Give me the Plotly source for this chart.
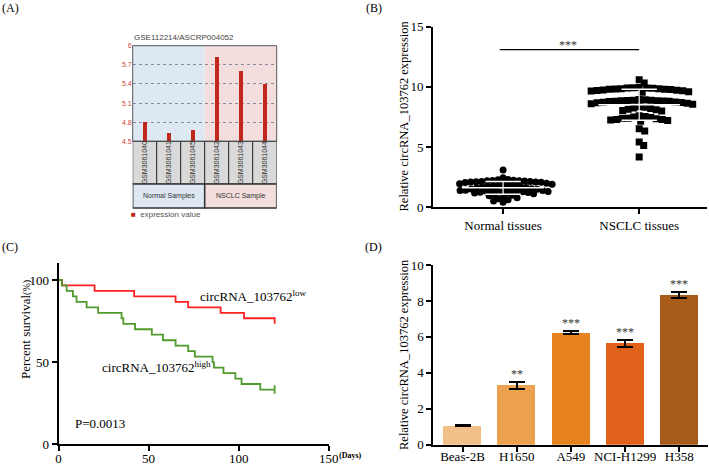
import numpy as np
import plotly.graph_objects as go

W, H = 709, 465

# ---------------- data ----------------
# (A) microarray expression
samples_A = ["GSM3061040", "GSM3061041", "GSM3061045", "GSM3061042", "GSM3061043", "GSM3061044"]
expr_A = [4.80, 4.64, 4.68, 5.82, 5.60, 5.41]
groups_A = ["Normal Samples", "NSCLC Sample"]
yticks_A = [4.5, 4.8, 5.1, 5.4, 5.7, 6.0]
yticktext_A = ["4.5", "4.8", "5.1", "5.4", "5.7", "6"]

# (B) tissues
tissue_groups = ["Normal tissues", "NSCLC tissues"]
normal_tissue = [3.10, 2.45,
                 2.30, 2.28, 2.25, 2.22, 2.20, 2.20, 2.18, 2.15, 2.15, 2.12, 2.10, 2.10, 2.08, 2.05, 2.02, 2.00,
                 1.95, 1.92, 1.88, 1.85, 1.80, 1.78, 1.75, 1.70, 1.68, 1.65, 1.62, 1.60,
                 1.55, 1.52, 1.50, 1.48, 1.45, 1.42, 1.40, 1.40, 1.38, 1.35, 1.35, 1.32, 1.30, 1.28, 1.25, 1.22, 1.20, 1.18,
                 1.12, 1.05, 1.00, 0.95, 0.88, 0.80, 0.72, 0.62, 0.52, 0.42]
nsclc_tissue = [10.60, 10.33,
                9.95, 9.93, 9.90, 9.90, 9.88, 9.85, 9.85, 9.82, 9.80, 9.80, 9.78, 9.75, 9.72, 9.70, 9.68, 9.65, 9.60, 9.55,
                8.95, 8.93, 8.90, 8.90, 8.88, 8.85, 8.85, 8.82, 8.80, 8.80, 8.78, 8.75, 8.72, 8.70, 8.68, 8.65, 8.60, 8.55,
                8.35, 8.30, 8.25, 8.20, 8.15, 8.10, 8.05, 8.00,
                7.60, 7.55, 7.50, 7.45, 7.40, 7.40, 7.35, 7.30, 7.30, 7.25, 7.20, 7.15,
                6.53, 6.33, 5.42, 5.14, 4.17]

# (C) Kaplan-Meier
km_low_days = [0, 2, 20, 42, 65, 72, 90, 103, 120]
km_low_surv = [100, 96.7, 93.3, 90, 86.7, 83.3, 80, 76.7, 73.3]
km_high_days = [0, 1.8, 4.5, 8, 10, 15.6, 22, 35, 36, 42.5, 51.8, 58, 65, 72, 75.7, 85.5, 86.3, 91.6, 98.2, 101.6, 112, 120]
km_high_surv = [100, 96.7, 93.3, 90, 86.7, 83.3, 80, 76.7, 73.3, 70, 66.7, 63.3, 60, 56.7, 53.3, 50, 46.7, 43.3, 40, 36.7, 33.3, 33.3]

# (D) cell lines
cell_lines = ["Beas-2B", "H1650", "A549", "NCI-H1299", "H358"]
cell_expr = [1.05, 3.30, 6.24, 5.64, 8.32]
cell_err = [0.03, 0.18, 0.08, 0.18, 0.15]
cell_sig = ["", "**", "***", "***", "***"]
cell_colors = ["#f1bf87", "#eca14f", "#e7831f", "#e1611b", "#a75c19"]

# ---------------- helpers ----------------
def dx(a, b):
    return [a / W, b / W]

def dy(top, bottom):
    return [1 - bottom / H, 1 - top / H]

def px(x):
    return x / W

def py(y):
    return 1 - y / H

SERIF = "Liberation Serif, Times New Roman, serif"
SANS = "Liberation Sans, Arial, sans-serif"

def swarm(values, ppu_y, ppu_x, d):
    """deterministic beeswarm offsets (data units on x)"""
    order = np.argsort(values)[::-1]
    placed = []
    offs = np.zeros(len(values))
    for i in order:
        y = values[i] * ppu_y
        cands = [0.0]
        for k in range(1, 400):
            cands += [k * 0.5, -k * 0.5]
        for c in cands:
            ok = True
            for (qx, qy) in placed:
                if (c - qx) ** 2 + (y - qy) ** 2 < d * d:
                    ok = False
                    break
            if ok:
                placed.append((c, y))
                offs[i] = c / ppu_x
                break
    return offs

def note(x, y, text, size=13, family=SERIF, color="black", xanchor="center", yanchor="middle", angle=0):
    return dict(x=px(x), y=py(y), xref="paper", yref="paper", text=text, showarrow=False,
                xanchor=xanchor, yanchor=yanchor, textangle=angle,
                font=dict(family=family, size=size, color=color))

fig = go.Figure()

# ---------------- (A) ----------------
xa = list(range(len(samples_A)))
fig.add_trace(go.Bar(x=xa, y=[v - 4.5 for v in expr_A], base=4.5, width=0.13,
                     marker=dict(color="#c0281c", line=dict(width=0)),
                     xaxis="x", yaxis="y", showlegend=False))

shapes = []
shapes.append(dict(type="rect", xref="x", yref="y domain", x0=-0.5, x1=2.5, y0=0, y1=1,
                   fillcolor="#dde8f3", line=dict(width=0), layer="below"))
shapes.append(dict(type="rect", xref="x", yref="y domain", x0=2.5, x1=5.5, y0=0, y1=1,
                   fillcolor="#f3dddd", line=dict(width=0), layer="below"))
shapes.append(dict(type="rect", xref="x domain", yref="y domain", x0=0, x1=1, y0=0, y1=1,
                   line=dict(color="#555555", width=1), layer="above"))
for i in xa:
    shapes.append(dict(type="rect", xref="x", yref="y domain", x0=i - 0.5, x1=i + 0.5, y0=-0.447, y1=0,
                       fillcolor="#d9d9d9", line=dict(color="#333333", width=1)))
for a, b, col in [(-0.5, 2.5, "#dde8f3"), (2.5, 5.5, "#f3dddd")]:
    shapes.append(dict(type="rect", xref="x", yref="y domain", x0=a, x1=b, y0=-0.698, y1=-0.447,
                       fillcolor=col, line=dict(color="#333333", width=1.5)))

annotations = []
for i, s in enumerate(samples_A):
    annotations.append(dict(x=i, y=-0.223, xref="x", yref="y domain", text=s, showarrow=False,
                            xanchor="center", yanchor="middle", textangle=-90,
                            font=dict(family=SANS, size=7, color="#333333")))
for g, xc in zip(groups_A, [1, 4]):
    annotations.append(dict(x=xc, y=-0.575, xref="x", yref="y domain", text=g, showarrow=False,
                            xanchor="center", yanchor="middle",
                            font=dict(family=SANS, size=7, color="#333333")))
annotations.append(note(132, 37, "GSE112214/ASCRP004052", size=8, family=SANS, color="#444444", xanchor="left"))
annotations.append(note(129, 214, "<span style='color:#c0281c'>■</span>  expression value", size=8,
                        family=SANS, color="#555555", xanchor="left"))

# ---------------- (B) ----------------
ppu_y_B = (207.3 - 26.7) / 15.0
ppu_x_B = (706.7 - 433.0) / (1.496 + 0.515)
off_n = swarm(np.array(normal_tissue), ppu_y_B, ppu_x_B, 5.2)
off_t = swarm(np.array(nsclc_tissue), ppu_y_B, ppu_x_B, 5.6)
fig.add_trace(go.Scatter(x=0 + off_n, y=normal_tissue, mode="markers",
                         marker=dict(symbol="circle", size=7, color="black"),
                         xaxis="x2", yaxis="y2", showlegend=False))
fig.add_trace(go.Scatter(x=1 + off_t, y=nsclc_tissue, mode="markers",
                         marker=dict(symbol="square", size=7, color="black"),
                         xaxis="x2", yaxis="y2", showlegend=False))
for xc, vals in [(0, normal_tissue), (1, nsclc_tissue)]:
    m = float(np.mean(vals)); sd = float(np.std(vals, ddof=1))
    shapes.append(dict(type="line", xref="x2", yref="y2", x0=xc - 0.3, x1=xc + 0.3, y0=m, y1=m,
                       line=dict(color="white", width=1.5)))
    for yy in (m - sd, m + sd):
        shapes.append(dict(type="line", xref="x2", yref="y2", x0=xc - 0.13, x1=xc + 0.13, y0=yy, y1=yy,
                           line=dict(color="white", width=1.5)))
    shapes.append(dict(type="line", xref="x2", yref="y2", x0=xc, x1=xc, y0=m - sd, y1=m + sd,
                       line=dict(color="white", width=1.2)))
shapes.append(dict(type="line", xref="x2", yref="y2", x0=-0.025, x1=1, y0=13.1, y1=13.1,
                   line=dict(color="black", width=1.3)))
annotations.append(dict(x=0.48, y=13.1, xref="x2", yref="y2", xanchor="center", yanchor="bottom", text="***",
                        showarrow=False, yshift=-4, font=dict(family=SERIF, size=12, color="#333333")))
annotations.append(note(404, 116.5, "Relative circRNA_103762 expression", size=12.5, angle=-90))

# ---------------- (C) ----------------
fig.add_trace(go.Scatter(x=km_low_days, y=km_low_surv, mode="lines", line=dict(color="#ff2020", width=1.8, shape="hv"),
                         xaxis="x3", yaxis="y3", showlegend=False))
fig.add_trace(go.Scatter(x=km_high_days, y=km_high_surv, mode="lines", line=dict(color="#4f9a2a", width=1.8, shape="hv"),
                         xaxis="x3", yaxis="y3", showlegend=False))
fig.add_trace(go.Scatter(x=[km_high_days[-1]], y=[km_high_surv[-1]], mode="markers",
                         marker=dict(symbol="line-ns", size=6, line=dict(color="#4f9a2a", width=1.8)),
                         xaxis="x3", yaxis="y3", showlegend=False))
annotations.append(note(198, 296, "circRNA_103762<sup>low</sup>", xanchor="left"))
annotations.append(note(100, 367, "circRNA_103762<sup>high</sup>", xanchor="left"))
annotations.append(note(73, 423, "P=0.0013", xanchor="left"))
annotations.append(note(25, 330, "Percent survival<span style='font-size:10px'>(%)</span>", angle=-90))
annotations.append(note(337, 455, "<b>(Days)</b>", size=8, xanchor="left"))

# ---------------- (D) ----------------
xd = list(range(len(cell_lines)))
fig.add_trace(go.Bar(x=xd, y=cell_expr, width=0.7, marker=dict(color=cell_colors, line=dict(width=0)),
                     error_y=dict(type="data", array=cell_err, color="black", thickness=2, width=8),
                     xaxis="x4", yaxis="y4", showlegend=False))
for i, (v, e, s) in enumerate(zip(cell_expr, cell_err, cell_sig)):
    if s:
        annotations.append(dict(x=i, y=v + e, xref="x4", yref="y4", xanchor="center", yanchor="bottom", text=s,
                                showarrow=False, yshift=-1, font=dict(family=SERIF, size=12, color="#333333")))
annotations.append(note(404, 355, "Relative circRNA_103762 expression", size=12.5, angle=-90))

for lab, lx, ly in [("(A)", 10, 8), ("(B)", 374, 8), ("(C)", 10, 247), ("(D)", 374, 247)]:
    annotations.append(note(lx, ly, lab, size=12))

axis_common = dict(showline=True, linecolor="black", linewidth=1.8, ticks="outside", ticklen=5, tickwidth=1.5,
                   tickcolor="black", showgrid=False, zeroline=False,
                   tickfont=dict(family=SERIF, size=13, color="black"))

fig.update_layout(
    width=W, height=H, margin=dict(l=0, r=0, t=0, b=0, autoexpand=False),
    paper_bgcolor="white", plot_bgcolor="rgba(0,0,0,0)",
    shapes=shapes, annotations=annotations, bargap=0,
    xaxis=dict(domain=dx(132.7, 276.7), range=[-0.5, 5.5], showticklabels=False, showgrid=False,
               zeroline=False, showline=False, ticks=""),
    yaxis=dict(domain=dy(45.7, 141.3), range=[4.5, 6], tickvals=yticks_A, ticktext=yticktext_A,
               showgrid=True, gridcolor="#8a8aa0", griddash="dot", gridwidth=1, zeroline=False,
               showline=False, ticks="", tickfont=dict(family=SANS, size=7, color="#d0443a")),
    xaxis2=dict(domain=dx(433, 706.7), range=[-0.515, 1.496], tickvals=[0, 1], ticktext=tissue_groups,
                anchor="y2", **axis_common),
    yaxis2=dict(domain=dy(26.7, 207.3), range=[0, 15], tickvals=[0, 5, 10, 15], anchor="x2", **axis_common),
    xaxis3=dict(domain=dx(58.5, 328.7), range=[0, 150], tickvals=[0, 50, 100, 150], anchor="y3",
                ticklabelstandoff=-4, **axis_common),
    yaxis3=dict(domain=dy(262.7, 444.3), range=[0, 110.5], tickvals=[0, 50, 100], anchor="x3", **axis_common),
    xaxis4=dict(domain=dx(433.3, 708), range=[-0.54, 4.53], tickvals=xd, ticktext=cell_lines,
                anchor="y4", ticklabelstandoff=-6, **axis_common),
    yaxis4=dict(domain=dy(265, 444.7), range=[0, 10], tickvals=[0, 2, 4, 6, 8, 10], anchor="x4", **axis_common),
)

fig.write_html("out.html", config={"displayModeBar": False},
               post_script="document.body.style.margin='0';document.body.style.overflow='hidden';")
